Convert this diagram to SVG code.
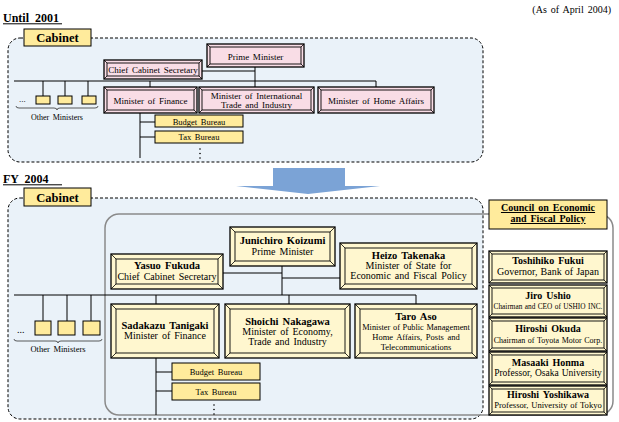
<svg xmlns="http://www.w3.org/2000/svg" width="619" height="422" viewBox="0 0 619 422">
<style>
text{font-family:"Liberation Serif","Times New Roman",serif;fill:#000;word-spacing:1.5px}
.c{text-anchor:middle}
.h{font-weight:bold;font-size:12px;word-spacing:0}
.lab{font-weight:bold;font-size:12.5px}
.t9{font-size:9px}
.t85{font-size:8.5px}
.nm{font-weight:bold;font-size:10.5px}
.nm2{font-weight:bold;font-size:10px}
.rl{font-size:10px}
.tight{word-spacing:0.6px}
.bg{fill:#EAF2F9;stroke:#000;stroke-width:1;stroke-dasharray:3 2}
.gray{fill:none;stroke:#8A8A8A;stroke-width:1.5}
.pk{fill:#F9DDE6}
.ly{fill:#FFF7CF}
.yb{fill:#FFEB9C;stroke:#000;stroke-width:1}
.o{stroke:#000;stroke-width:1.3}
.i{fill:none;stroke:#000;stroke-width:0.9}
.d{stroke:#000;stroke-width:0.8}
.ln{fill:none;stroke:#000;stroke-width:1}
.br{fill:none;stroke:#333;stroke-width:0.8}
</style>
<!-- headings -->
<text x="611" y="12.5" style="font-size:10px;text-anchor:end">(As of April 2004)</text>
<text x="3" y="21.5" class="h" xml:space="preserve">Until  2001</text>
<line x1="3" y1="23.8" x2="62" y2="23.8" class="ln"/>
<text x="3" y="182.5" class="h" xml:space="preserve">FY  2004</text>
<line x1="3" y1="184.8" x2="62" y2="184.8" class="ln"/>

<!-- backgrounds -->
<rect x="8" y="38" width="475" height="124" rx="12" class="bg"/>
<rect x="8" y="198" width="475" height="221" rx="12" class="bg"/>
<rect x="105" y="214" width="508" height="201" rx="14" class="gray"/>

<!-- arrow -->
<polygon points="273,168 345,168 345,186 380,186 308,194 236,186 273,186" fill="#7BA3D6"/>

<!-- connectors -->
<g id="connectors" class="ln">
  <!-- top -->
  <line x1="14" y1="81" x2="376" y2="81"/>
  <line x1="376" y1="81" x2="376" y2="87"/>
  <line x1="150" y1="81" x2="150" y2="87"/>
  <line x1="255" y1="67" x2="255" y2="87"/>
  <line x1="202" y1="71" x2="255" y2="71"/>
  <line x1="43" y1="81" x2="43" y2="96"/>
  <line x1="65" y1="81" x2="65" y2="96"/>
  <line x1="88" y1="81" x2="88" y2="96"/>
  <line x1="140" y1="113" x2="140" y2="158"/>
  <line x1="140" y1="122" x2="155" y2="122"/>
  <line x1="140" y1="137" x2="155" y2="137"/>
  <!-- bottom -->
  <line x1="14" y1="295" x2="416" y2="295"/>
  <line x1="43" y1="295" x2="43" y2="321"/>
  <line x1="67" y1="295" x2="67" y2="321"/>
  <line x1="91" y1="295" x2="91" y2="321"/>
  <line x1="156" y1="295" x2="156" y2="304"/>
  <line x1="289" y1="295" x2="289" y2="304"/>
  <line x1="416" y1="295" x2="416" y2="304"/>
  <line x1="282" y1="266" x2="282" y2="295"/>
  <line x1="223" y1="273" x2="282" y2="273"/>
  <line x1="282" y1="278" x2="340" y2="278"/>
  <line x1="156" y1="358" x2="156" y2="415"/>
  <line x1="156" y1="372" x2="172" y2="372"/>
  <line x1="156" y1="391" x2="172" y2="391"/>
</g>

<!-- dots and braces -->
<g fill="#000">
  <circle cx="200" cy="149" r="0.8"/><circle cx="200" cy="153.5" r="0.8"/><circle cx="200" cy="158" r="0.8"/>
  <circle cx="214" cy="405" r="0.8"/><circle cx="214" cy="409.5" r="0.8"/><circle cx="214" cy="414" r="0.8"/>
</g>
<text x="19" y="102" style="font-size:9px">...</text>
<text x="17" y="333" style="font-size:10px">...</text>
<path d="M16,106 q0,2 3,2 h35 q3,0 3,2 q0,-2 3,-2 h35 q3,0 3,-2" class="br"/>
<text x="57" y="120" class="c" style="font-size:8px">Other Ministers</text>
<path d="M14,339 q0,2 3,2 h38 q3,0 3,2 q0,-2 3,-2 h38 q3,0 3,-2" class="br"/>
<text x="58" y="352" class="c" style="font-size:8.5px">Other Ministers</text>

<!-- top small boxes -->
<g id="top-others">
  <rect x="36" y="96" width="14" height="8" class="yb"/>
  <rect x="58" y="96" width="14" height="8" class="yb"/>
  <rect x="82" y="96" width="14" height="8" class="yb"/>
</g>
<g id="top-cabinet-label">
  <rect x="24" y="29" width="67" height="17" class="yb"/>
  <text x="57.5" y="42" class="c lab">Cabinet</text>
</g>
<g id="top-pm">
  <rect x="207" y="44" width="97" height="23" class="pk o"/>
  <rect x="210" y="47" width="91" height="17" class="i"/>
  <path d="M207,44 l3,3 M304,44 l-3,3 M207,67 l3,-3 M304,67 l-3,-3" class="d"/>
  <text x="255.5" y="59.5" class="c t9">Prime Minister</text>
</g>
<g id="top-ccs">
  <rect x="104" y="60" width="98" height="19" class="pk o"/>
  <rect x="107" y="63" width="92" height="13" class="i"/>
  <path d="M104,60 l3,3 M202,60 l-3,3 M104,79 l3,-3 M202,79 l-3,-3" class="d"/>
  <text x="153" y="73" class="c t9">Chief Cabinet Secretary</text>
</g>
<g id="top-finance">
  <rect x="104" y="87" width="93" height="26" class="pk o"/>
  <rect x="107" y="90" width="87" height="20" class="i"/>
  <path d="M104,87 l3,3 M197,87 l-3,3 M104,113 l3,-3 M197,113 l-3,-3" class="d"/>
  <text x="150.5" y="103.5" class="c t9">Minister of Finance</text>
</g>
<g id="top-miti">
  <rect x="199" y="87" width="115" height="26" class="pk o"/>
  <rect x="202" y="90" width="109" height="20" class="i"/>
  <path d="M199,87 l3,3 M314,87 l-3,3 M199,113 l3,-3 M314,113 l-3,-3" class="d"/>
  <text x="256.5" y="99" class="c t9">Minister of International</text>
  <text x="256.5" y="107.5" class="c t9">Trade and Industry</text>
</g>
<g id="top-home">
  <rect x="318" y="87" width="116" height="26" class="pk o"/>
  <rect x="321" y="90" width="110" height="20" class="i"/>
  <path d="M318,87 l3,3 M434,87 l-3,3 M318,113 l3,-3 M434,113 l-3,-3" class="d"/>
  <text x="376" y="103.5" class="c t9">Minister of Home Affairs</text>
</g>
<g id="top-budget">
  <rect x="155" y="115" width="88" height="12" class="yb"/>
  <text x="199" y="124.5" class="c t85">Budget Bureau</text>
</g>
<g id="top-tax">
  <rect x="155" y="131" width="88" height="12" class="yb"/>
  <text x="199" y="140" class="c t85">Tax Bureau</text>
</g>

<!-- bottom -->
<g id="bot-others">
  <rect x="35" y="321" width="16" height="14" class="yb"/>
  <rect x="58" y="321" width="17" height="14" class="yb"/>
  <rect x="83" y="321" width="17" height="14" class="yb"/>
</g>
<g id="bot-cabinet-label">
  <rect x="24" y="188" width="67" height="18" class="yb"/>
  <text x="57.5" y="201.5" class="c lab">Cabinet</text>
</g>
<g id="koizumi">
  <rect x="230" y="227" width="105" height="39" class="ly o"/>
  <rect x="235" y="232" width="95" height="29" class="i"/>
  <path d="M230,227 l5,5 M335,227 l-5,5 M230,266 l5,-5 M335,266 l-5,-5" class="d"/>
  <text x="282.5" y="244" class="c nm">Junichiro Koizumi</text>
  <text x="282.5" y="254.5" class="c rl">Prime Minister</text>
</g>
<g id="fukuda">
  <rect x="111" y="254" width="112" height="35" class="ly o"/>
  <rect x="116" y="259" width="102" height="25" class="i"/>
  <path d="M111,254 l5,5 M223,254 l-5,5 M111,289 l5,-5 M223,289 l-5,-5" class="d"/>
  <text x="167" y="269" class="c nm">Yasuo Fukuda</text>
  <text x="167" y="279.5" class="c rl">Chief Cabinet Secretary</text>
</g>
<g id="takenaka">
  <rect x="340" y="243" width="137" height="46" class="ly o"/>
  <rect x="345" y="248" width="127" height="36" class="i"/>
  <path d="M340,243 l5,5 M477,243 l-5,5 M340,289 l5,-5 M477,289 l-5,-5" class="d"/>
  <text x="408.5" y="259" class="c nm">Heizo Takenaka</text>
  <text x="408.5" y="269" class="c rl">Minister of State for</text>
  <text x="408.5" y="279" class="c rl">Economic and Fiscal Policy</text>
</g>
<g id="tanigaki">
  <rect x="111" y="304" width="108" height="54" class="ly o"/>
  <rect x="116" y="309" width="98" height="44" class="i"/>
  <path d="M111,304 l5,5 M219,304 l-5,5 M111,358 l5,-5 M219,358 l-5,-5" class="d"/>
  <text x="165" y="329" class="c nm">Sadakazu Tanigaki</text>
  <text x="165" y="339" class="c rl">Minister of Finance</text>
</g>
<g id="nakagawa">
  <rect x="225" y="304" width="125" height="54" class="ly o"/>
  <rect x="230" y="309" width="115" height="44" class="i"/>
  <path d="M225,304 l5,5 M350,304 l-5,5 M225,358 l5,-5 M350,358 l-5,-5" class="d"/>
  <text x="287.5" y="324.5" class="c nm">Shoichi Nakagawa</text>
  <text x="287.5" y="335" class="c rl">Minister of Economy,</text>
  <text x="287.5" y="345" class="c rl">Trade and Industry</text>
</g>
<g id="aso">
  <rect x="355" y="304" width="122" height="54" class="ly o"/>
  <rect x="360" y="309" width="112" height="44" class="i"/>
  <path d="M355,304 l5,5 M477,304 l-5,5 M355,358 l5,-5 M477,358 l-5,-5" class="d"/>
  <text x="416" y="319.5" class="c nm">Taro Aso</text>
  <text x="416" y="329.5" class="c tight" style="font-size:8.3px">Minister of Public Management</text>
  <text x="416" y="339.5" class="c" style="font-size:8.5px">Home Affairs, Posts and</text>
  <text x="416" y="349.5" class="c" style="font-size:8.5px">Telecommunications</text>
</g>
<g id="bot-budget">
  <rect x="172" y="363" width="88" height="17" class="yb"/>
  <text x="216" y="375" class="c t85">Budget Bureau</text>
</g>
<g id="bot-tax">
  <rect x="172" y="383" width="88" height="17" class="yb"/>
  <text x="216" y="394.5" class="c t85">Tax Bureau</text>
</g>

<!-- council -->
<g id="council-label">
  <rect x="489" y="200" width="118" height="29" class="yb"/>
  <text x="548" y="211" class="c nm2" style="text-decoration:underline">Council on Economic</text>
  <text x="548" y="222" class="c nm2" style="text-decoration:underline">and Fiscal Policy</text>
</g>
<g id="fukui">
  <rect x="489" y="251" width="118" height="32" class="ly o"/>
  <rect x="492" y="254" width="112" height="26" class="i"/>
  <path d="M489,251 l3,3 M607,251 l-3,3 M489,283 l3,-3 M607,283 l-3,-3" class="d"/>
  <text x="548" y="264" class="c nm2">Toshihiko Fukui</text>
  <text x="548" y="274.5" class="c tight" style="font-size:10px">Governor, Bank of Japan</text>
</g>
<g id="ushio">
  <rect x="489" y="285" width="118" height="32" class="ly o"/>
  <rect x="492" y="288" width="112" height="26" class="i"/>
  <path d="M489,285 l3,3 M607,285 l-3,3 M489,317 l3,-3 M607,317 l-3,-3" class="d"/>
  <text x="548" y="299" class="c nm2">Jiro Ushio</text>
  <text x="548" y="308.5" class="c tight" style="font-size:7.3px">Chairman and CEO of USHIO INC.</text>
</g>
<g id="okuda">
  <rect x="489" y="318" width="118" height="33" class="ly o"/>
  <rect x="492" y="321" width="112" height="27" class="i"/>
  <path d="M489,318 l3,3 M607,318 l-3,3 M489,351 l3,-3 M607,351 l-3,-3" class="d"/>
  <text x="548" y="332" class="c nm2">Hiroshi Okuda</text>
  <text x="548" y="342.5" class="c tight" style="font-size:8px">Chairman of Toyota Motor Corp.</text>
</g>
<g id="honma">
  <rect x="489" y="352" width="118" height="33" class="ly o"/>
  <rect x="492" y="355" width="112" height="27" class="i"/>
  <path d="M489,352 l3,3 M607,352 l-3,3 M489,385 l3,-3 M607,385 l-3,-3" class="d"/>
  <text x="548" y="366" class="c nm2">Masaaki Honma</text>
  <text x="548" y="375.5" class="c tight" style="font-size:9.5px">Professor, Osaka University</text>
</g>
<g id="yoshikawa">
  <rect x="489" y="386" width="118" height="29" class="ly o"/>
  <rect x="492" y="389" width="112" height="23" class="i"/>
  <path d="M489,386 l3,3 M607,386 l-3,3 M489,415 l3,-3 M607,415 l-3,-3" class="d"/>
  <text x="548" y="398" class="c nm2">Hiroshi Yoshikawa</text>
  <text x="548" y="408" class="c tight" style="font-size:8.6px">Professor, University of Tokyo</text>
</g>
</svg>
